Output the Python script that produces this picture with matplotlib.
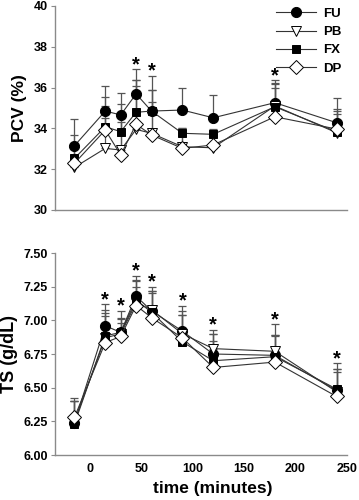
import numpy as np
import matplotlib
matplotlib.use("Agg")
import matplotlib.pyplot as plt

plt.rcParams['font.family'] = ['Liberation Sans', 'DejaVu Sans']
plt.rcParams['font.weight'] = 'bold'

time = [-15, 15, 30, 45, 60, 90, 120, 180, 240]
groups = ['FU', 'PB', 'FX', 'DP']

# PCV (%)
pcv_FU = [33.15, 34.85, 34.66, 35.69, 34.85, 34.90, 34.52, 35.26, 34.28]
pcv_PB = [32.09, 33.02, 32.94, 33.95, 33.76, 33.10, 33.05, 35.10, 33.79]
pcv_FX = [32.53, 34.08, 33.84, 34.79, 34.85, 33.76, 33.71, 35.06, 33.84]
pcv_DP = [32.29, 33.92, 32.70, 34.20, 33.68, 33.02, 33.19, 34.57, 33.97]
pcv_err_FU = [1.30, 1.24, 1.06, 1.21, 1.72, 1.06, 1.12, 1.11, 1.22]
pcv_err_PB = [1.00, 1.50, 1.60, 2.40, 2.10, 0.90, 0.90, 1.10, 0.90]
pcv_err_FX = [1.14, 1.44, 1.36, 1.56, 1.05, 0.25, 0.20, 1.18, 1.10]
pcv_err_DP = [0.90, 1.20, 1.60, 1.90, 1.60, 0.80, 0.70, 1.40, 0.90]
pcv_sig = [45, 60, 180]

# TS (g/dL)
ts_FU = [6.24, 6.96, 6.91, 7.18, 7.07, 6.92, 6.75, 6.74, 6.48]
ts_PB = [6.25, 6.87, 6.90, 7.13, 7.08, 6.90, 6.79, 6.77, 6.47]
ts_FX = [6.23, 6.885, 6.91, 7.15, 7.06, 6.84, 6.70, 6.73, 6.49]
ts_DP = [6.28, 6.835, 6.88, 7.11, 7.02, 6.87, 6.65, 6.69, 6.435]
ts_err_FU = [0.18, 0.16, 0.10, 0.15, 0.15, 0.19, 0.18, 0.23, 0.20]
ts_err_PB = [0.15, 0.21, 0.12, 0.16, 0.17, 0.14, 0.11, 0.12, 0.15]
ts_err_FX = [0.17, 0.17, 0.16, 0.15, 0.16, 0.23, 0.20, 0.16, 0.15]
ts_err_DP = [0.12, 0.20, 0.10, 0.14, 0.18, 0.17, 0.20, 0.19, 0.20]
ts_sig = [15, 30, 45, 60, 90, 120, 180, 240]

styles = {
    'FU': dict(marker='o', mfc='black', ms=7.3),
    'PB': dict(marker='v', mfc='white', ms=7.8),
    'FX': dict(marker='s', mfc='black', ms=6.4),
    'DP': dict(marker='D', mfc='white', ms=7.0),
}

fig = plt.figure(figsize=(3.59, 5.0), dpi=100)
ax1 = fig.add_axes([0.153, 0.58, 0.813, 0.408])
ax2 = fig.add_axes([0.153, 0.09, 0.813, 0.404])

spine_col = '#8a8a8a'
line_col = '#333333'


def draw(ax, series, errs, sig, ylim, yticks, fmt):
    t = np.array(time)
    tops = []
    for g, vals, e in zip(groups, series, errs):
        v = np.array(vals)
        e = np.array(e)
        ax.errorbar(t, v, yerr=[np.zeros_like(e), e], fmt='none',
                    ecolor='#555555', elinewidth=0.9, capsize=2.8,
                    capthick=0.9, zorder=2)
        st = styles[g]
        ax.plot(t, v, color=line_col, lw=0.8, marker=st['marker'],
                mfc=st['mfc'], mec='black', mew=0.7, ms=st['ms'],
                label=g, zorder=3)
        tops.append(v + e)
    tops = np.max(np.array(tops), axis=0)
    for s in sig:
        i = time.index(s)
        ax.annotate('*', (s, tops[i]), xytext=(0, -3.5), textcoords='offset points',
                    ha='center', va='bottom', fontsize=14.5, fontweight='bold',
                    zorder=5)
    ax.set_xlim(-34, 250)
    ax.set_ylim(*ylim)
    ax.set_yticks(yticks)
    ax.set_yticklabels([fmt.format(v) for v in yticks])
    for sp in ['top', 'right']:
        ax.spines[sp].set_visible(False)
    for sp in ['left', 'bottom']:
        ax.spines[sp].set_color(spine_col)
        ax.spines[sp].set_linewidth(1.0)
    ax.tick_params(axis='y', direction='out', length=3, width=0.8,
                   color=spine_col, labelsize=9, pad=2)
    ax.tick_params(axis='x', length=0, labelsize=9, pad=6)


draw(ax1, [pcv_FU, pcv_PB, pcv_FX, pcv_DP],
     [pcv_err_FU, pcv_err_PB, pcv_err_FX, pcv_err_DP],
     pcv_sig, (30, 40), [30, 32, 34, 36, 38, 40], '{:.0f}')
ax1.set_xticks([])
ax1.set_ylabel('PCV (%)', fontsize=12.5, fontweight='bold')
ax1.yaxis.set_label_coords(-0.095, 0.5)

draw(ax2, [ts_FU, ts_PB, ts_FX, ts_DP],
     [ts_err_FU, ts_err_PB, ts_err_FX, ts_err_DP],
     ts_sig, (6.0, 7.5), [6.0, 6.25, 6.5, 6.75, 7.0, 7.25, 7.5], '{:.2f}')
ax2.set_xticks([0, 50, 100, 150, 200, 250])
ax2.set_ylabel('TS (g/dL)', fontsize=13, fontweight='bold')
ax2.yaxis.set_label_coords(-0.125, 0.5)
ax2.set_xlabel('time (minutes)', fontsize=12.5, fontweight='bold')
ax2.xaxis.set_label_coords(0.54, -0.13)

leg = ax1.legend(loc='upper right', bbox_to_anchor=(1.01, 1.03), frameon=False,
                 fontsize=9.5, handlelength=3.0, handletextpad=0.6,
                 labelspacing=0.45, borderaxespad=0.2)

fig.savefig('out.png', dpi=100)
